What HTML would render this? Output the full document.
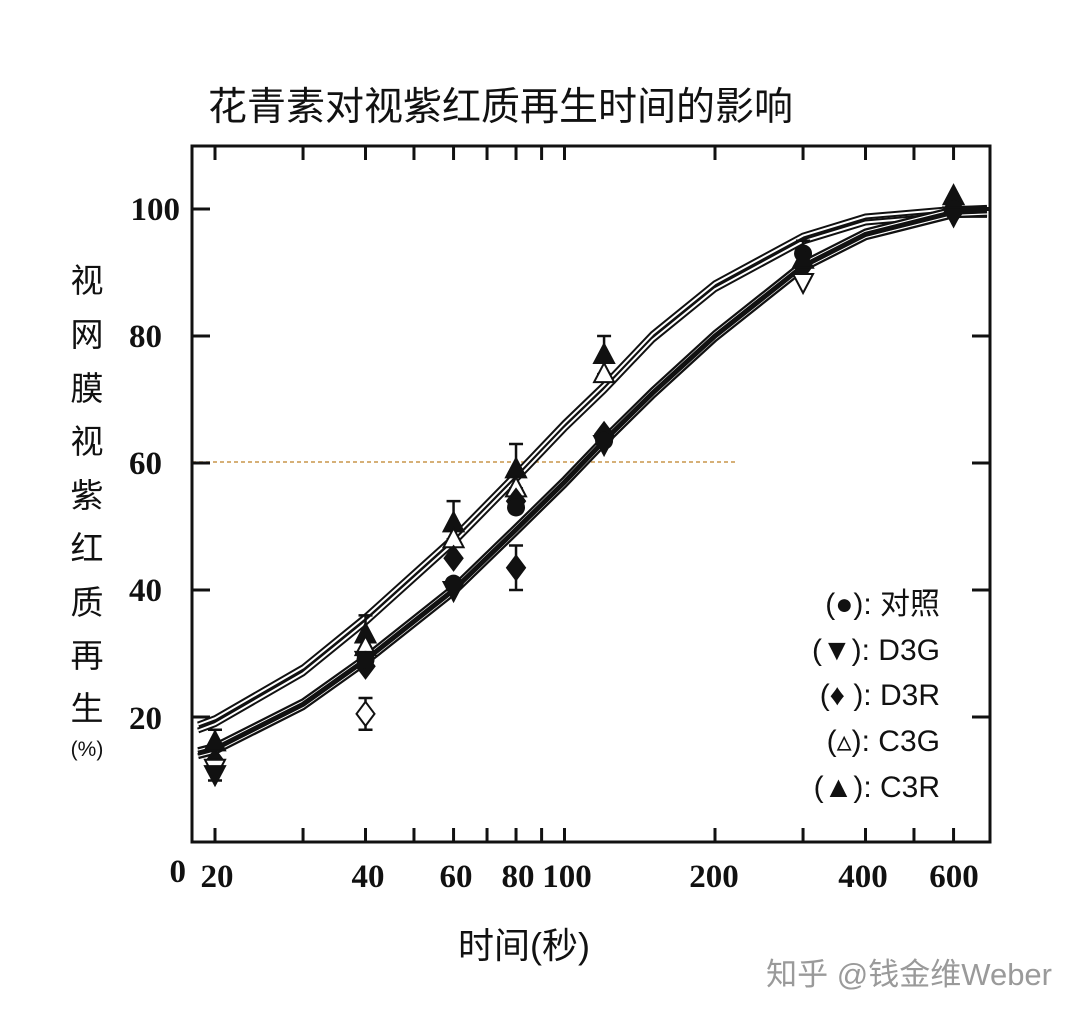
<!DOCTYPE html>
<html><head><meta charset="utf-8"><style>
body{margin:0;background:#fff;width:1080px;height:1020px;overflow:hidden}
svg{display:block}
.cj{font-family:"Liberation Sans","Noto Sans CJK SC",sans-serif}
.tk{font-family:"Liberation Serif",serif;font-weight:bold;font-size:33px}
</style></head><body>
<svg id="s" width="1080" height="1020" xmlns="http://www.w3.org/2000/svg">
<text x="208" y="120" class="cj" font-size="39" fill="#111">花青素对视紫红质再生时间的影响</text>
<g class="cj" font-size="33" fill="#111" text-anchor="middle">
<text x="87" y="292">视</text><text x="87" y="346">网</text><text x="87" y="400">膜</text>
<text x="87" y="453">视</text><text x="87" y="507">紫</text><text x="87" y="560">红</text>
<text x="87" y="614">质</text><text x="87" y="667">再</text><text x="87" y="720">生</text>
<text x="87" y="756" font-size="21">(%)</text>
</g>
<text x="524" y="958" class="cj" font-size="36" fill="#111" text-anchor="middle">时间(秒)</text>
<g class="cj" font-size="30" fill="#111" text-anchor="end">
<text x="940" y="614">(●): 对照</text>
<text x="940" y="660">(▼): D3G</text>
<text x="940" y="705">(♦ ): D3R</text>
<text x="940" y="751">(▵): C3G</text>
<text x="940" y="797">(▲): C3R</text>
</g>
<text x="1052" y="985" class="cj" font-size="31" fill="#9a9a9a" text-anchor="end">知乎 @钱金维Weber</text>
<g class="tk" fill="#111" text-anchor="end">
<text x="180" y="220">100</text><text x="162" y="347">80</text><text x="162" y="474">60</text>
<text x="162" y="601">40</text><text x="162" y="729">20</text><text x="186" y="882">0</text>
</g>
<g class="tk" fill="#111" text-anchor="middle">
<text x="217" y="887">20</text><text x="368" y="887">40</text><text x="456" y="887">60</text>
<text x="518" y="887">80</text><text x="567" y="887">100</text><text x="714" y="887">200</text>
<text x="863" y="887">400</text><text x="954" y="887">600</text>
</g>
<line x1="192" y1="462" x2="738" y2="462" stroke="#c8954a" stroke-width="1.5" stroke-dasharray="4,3"/>
<g id="plot"></g>
<rect x="192" y="146" width="798" height="696" fill="none" stroke="#111" stroke-width="3"/>
</svg>
<script>
var NS="http://www.w3.org/2000/svg",g=document.getElementById('plot');
function px(t){return 215+500*Math.log10(t/20)}
function py(v){return 844-6.35*v}
function el(n,a){var e=document.createElementNS(NS,n);for(var k in a)e.setAttribute(k,a[k]);g.appendChild(e);return e}
[20,30,40,50,60,70,80,90,100,200,300,400,500,600].forEach(function(t){var x=px(t);
el('line',{x1:x,y1:842,x2:x,y2:828,stroke:'#111','stroke-width':3});
el('line',{x1:x,y1:146,x2:x,y2:160,stroke:'#111','stroke-width':3});});
[20,40,60,80,100].forEach(function(v){var y=py(v);
el('line',{x1:192,y1:y,x2:210,y2:y,stroke:'#111','stroke-width':3});
el('line',{x1:972,y1:y,x2:990,y2:y,stroke:'#111','stroke-width':3});});
function path(pts,dy){return pts.map(function(p,i){return (i?'L':'M')+px(p[0]).toFixed(1)+','+(py(p[1])+dy).toFixed(1)}).join(' ')}
var up=[[18.5,18.5],[20,19.5],[30,27.5],[40,35.5],[60,48],[80,58],[100,66],[120,72],[150,80],[200,88],[300,95.5],[400,98.5],[600,99.7],[700,99.7]];
var lo=[[18.5,14.3],[20,15],[30,22],[40,29],[60,40],[80,49.5],[100,57],[120,63.5],[150,71],[200,80],[300,91],[400,96],[600,99.5],[700,99.7]];
[[up,-2],[up,4]].forEach(function(c){var d=path(c[0],c[1]);el('path',{d:d,fill:'none',stroke:'#111','stroke-width':6});el('path',{d:d,fill:'none',stroke:'#fff','stroke-width':2});});
[[lo,-3],[lo,3]].forEach(function(c){var d=path(c[0],c[1]);el('path',{d:d,fill:'none',stroke:'#111','stroke-width':6});el('path',{d:d,fill:'none',stroke:'#fff','stroke-width':1.5});});
el('path',{d:path(lo,0),fill:'none',stroke:'#111','stroke-width':5});
el('line',{x1:960,y1:py(100),x2:990,y2:py(100),stroke:'#111','stroke-width':4});
function err(t,v,e){var x=px(t);el('path',{d:'M'+(x-7)+','+py(v+e)+'H'+(x+7)+'M'+x+','+py(v+e)+'V'+py(v-e)+'M'+(x-7)+','+py(v-e)+'H'+(x+7),stroke:'#111','stroke-width':2.5,fill:'none'})}
function tri(t,v,open,down){var x=px(t),y=py(v),s=down?-1:1;el('path',{d:'M'+x+','+(y-11*s)+'L'+(x+10)+','+(y+8*s)+'L'+(x-10)+','+(y+8*s)+'Z',fill:open?'#fff':'#111',stroke:'#111','stroke-width':2})}
function dia(t,v,open){var x=px(t),y=py(v);el('path',{d:'M'+x+','+(y-12)+'L'+(x+9)+','+y+'L'+x+','+(y+12)+'L'+(x-9)+','+y+'Z',fill:open?'#fff':'#111',stroke:'#111','stroke-width':2})}
function dot(t,v){el('circle',{cx:px(t),cy:py(v),r:9,fill:'#111'})}
err(20,14,4);dot(20,12);dia(20,13);tri(20,16);tri(20,12,true,true);tri(20,11,false,true);
err(40,32,4);tri(40,33);tri(40,31,true);dot(40,29);dia(40,28);tri(40,29,false,true);
err(40,20.5,2.5);dia(40,20.5,true);
err(60,51,3);tri(60,50.5);tri(60,48,true);dia(60,45);dot(60,41);tri(60,40,false,true);
err(80,59.5,3.5);tri(80,59);tri(80,56,true);dia(80,54);dot(80,53);
err(80,43.5,3.5);dia(80,43.5);
err(120,77,3);tri(120,77);tri(120,74,true);dia(120,64.5);dot(120,63.5);tri(120,63,false,true);
err(300,92,3);dot(300,93);dia(300,91);tri(300,92);tri(300,88.5,true,true);
tri(600,102);dot(600,100);dia(600,99.5);tri(600,99,false,true);
</script>
</body></html>
